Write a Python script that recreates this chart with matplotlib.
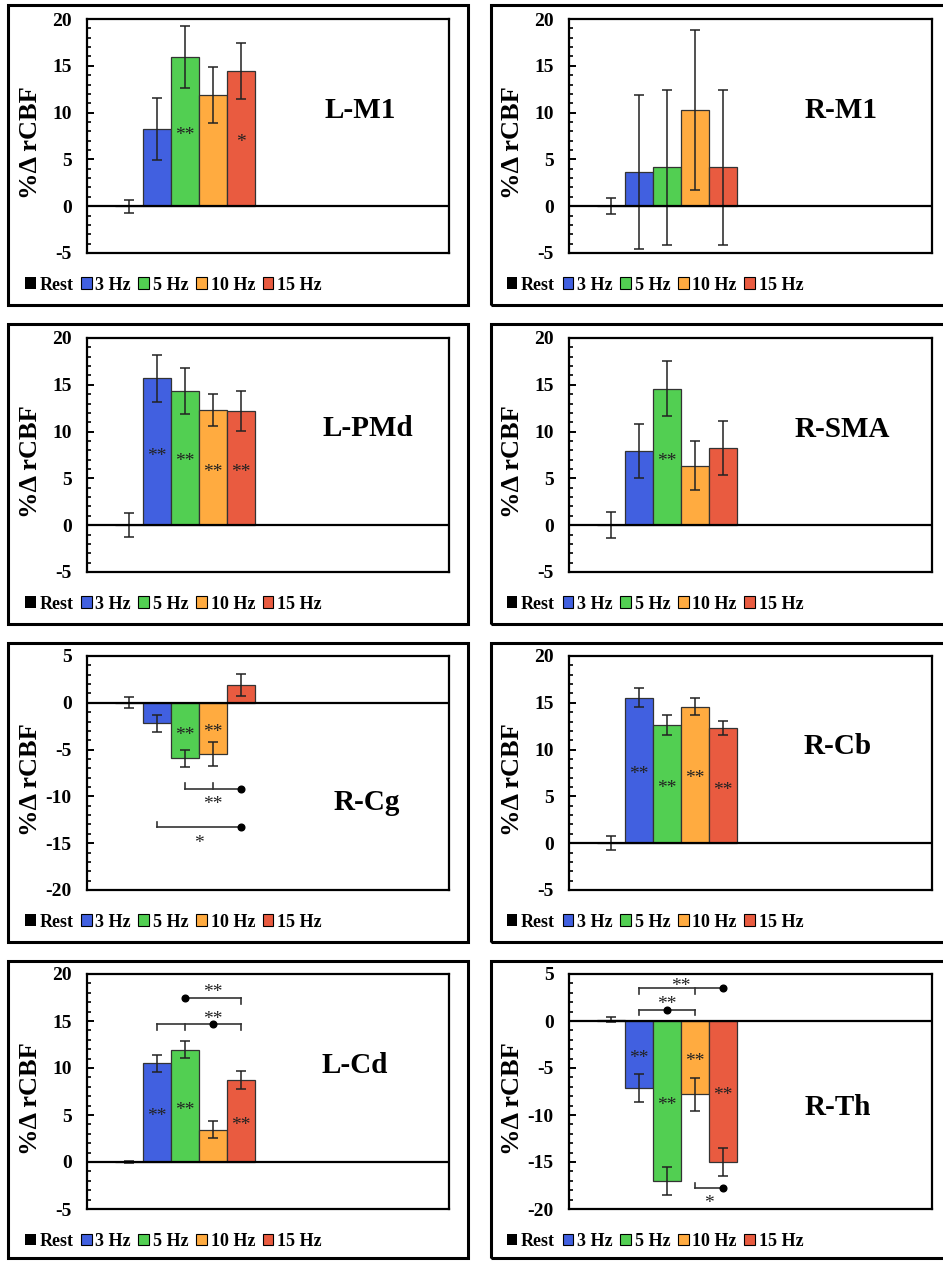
import numpy as np
import matplotlib
matplotlib.use("Agg")
import matplotlib.pyplot as plt
from matplotlib.patches import Patch, Rectangle

plt.rcParams["font.family"] = ["Liberation Serif", "DejaVu Serif"]
plt.rcParams["axes.unicode_minus"] = False

# --- dados ---
conditions = ["Rest", "3 Hz", "5 Hz", "10 Hz", "15 Hz"]
colors = ["#000000", "#4160E0", "#52CF52", "#FFAB40", "#E95B40"]

regions = ["L-M1", "R-M1", "L-PMd", "R-SMA", "R-Cg", "R-Cb", "L-Cd", "R-Th"]

lm1_mean = [0.0, 8.25, 15.95, 11.85, 14.4]
lm1_err = [0.7, 3.3, 3.35, 3.0, 3.0]
lm1_stars = ["", "", "**", "", "*"]

rm1_mean = [0.0, 3.65, 4.15, 10.3, 4.15]
rm1_err = [0.87, 8.2, 8.25, 8.55, 8.3]
rm1_stars = ["", "", "", "", ""]

lpmd_mean = [0.0, 15.7, 14.35, 12.3, 12.2]
lpmd_err = [1.27, 2.5, 2.47, 1.75, 2.15]
lpmd_stars = ["", "**", "**", "**", "**"]

rsma_mean = [0.0, 7.9, 14.6, 6.35, 8.25]
rsma_err = [1.37, 2.87, 2.9, 2.63, 2.87]
rsma_stars = ["", "", "**", "", ""]

rcg_mean = [0.0, -2.2, -5.95, -5.45, 1.9]
rcg_err = [0.6, 0.94, 0.96, 1.28, 1.15]
rcg_stars = ["", "", "**", "**", ""]

rcb_mean = [0.0, 15.55, 12.65, 14.6, 12.3]
rcb_err = [0.76, 1.03, 1.1, 0.87, 0.78]
rcb_stars = ["", "**", "**", "**", "**"]

lcd_mean = [0.0, 10.5, 11.95, 3.45, 8.7]
lcd_err = [0.12, 0.91, 0.9, 0.9, 0.94]
lcd_stars = ["", "**", "**", "", "**"]

rth_mean = [0.15, -7.1, -17.05, -7.8, -15.0]
rth_err = [0.3, 1.5, 1.48, 1.73, 1.5]
rth_stars = ["", "**", "**", "**", "**"]

# comparacoes entre frequencias: (y, de, ate, ponto, ticks, direcao, rotulo, x_rot, y_rot)
rcg_pairs = [(-9.16, 2, 4, 4, [2, 3], 1, "**", 3.0, -10.35),
             (-13.3, 1, 4, 4, [1], 1, "*", 2.5, -14.5)]
lcd_pairs = [(17.43, 2, 4, 2, [4], -1, "**", 3.0, 18.5),
             (14.69, 1, 4, 3, [1, 2, 4], -1, "**", 3.0, 15.72)]
rth_pairs = [(3.47, 1, 4, 4, [1, 3], -1, "**", 2.5, 4.22),
             (1.21, 1, 3, 2, [1, 3], -1, "**", 2.0, 2.28),
             (-17.8, 3, 4, 4, [3], 1, "*", 3.5, -18.86)]

# --- layout (pixels) ---
W, H = 943, 1261
fig = plt.figure(figsize=(W / 100, H / 100), dpi=100)

def frect(x0, y0, x1, y1):
    return [x0 / W, 1 - y1 / H, (x1 - x0) / W, (y1 - y0) / H]

col_axes = [(87, 449), (569, 932)]
col_box = [(8, 468), (491, 960)]
row_axes = [(19, 253), (338, 572), (656, 890), (974, 1209)]
row_box = [(5, 305), (324, 624), (643, 942), (961, 1258)]

# (media, erro, estrelas, pares, ylim, posicao do nome, y das estrelas)
panel_data = [
    (lm1_mean, lm1_err, lm1_stars, [], (-5, 20), (0.754, 0.61), [0, 0, 8.1, 0, 7.3]),
    (rm1_mean, rm1_err, rm1_stars, [], (-5, 20), (0.75, 0.61), [0, 0, 0, 0, 0]),
    (lpmd_mean, lpmd_err, lpmd_stars, [], (-5, 20), (0.776, 0.613), [0, 7.9, 7.3, 6.2, 6.2]),
    (rsma_mean, rsma_err, rsma_stars, [], (-5, 20), (0.752, 0.61), [0, 0, 7.37, 0, 0]),
    (rcg_mean, rcg_err, rcg_stars, rcg_pairs, (-20, 5), (0.773, 0.372), [0, 0, -2.95, -2.65, 0]),
    (rcb_mean, rcb_err, rcb_stars, [], (-5, 20), (0.741, 0.613), [0, 7.9, 6.35, 7.38, 6.2]),
    (lcd_mean, lcd_err, lcd_stars, lcd_pairs, (-5, 20), (0.74, 0.61), [0, 5.33, 6.04, 0, 4.44]),
    (rth_mean, rth_err, rth_stars, rth_pairs, (-20, 5), (0.741, 0.432), [0, -3.45, -8.44, -3.8, -7.46]),
]

x = np.arange(len(conditions))
handles = [Patch(facecolor=c, edgecolor="black" if i else "none", linewidth=0.8, label=l)
           for i, (c, l) in enumerate(zip(colors, conditions))]

STAR_FS = 14


def star(ax, xs, ys, s):
    # o asterisco fica alto na caixa da fonte: desce um pouco para centrar a tinta
    ax.annotate(s, (xs, ys), xytext=(0, -3.5), textcoords="offset points",
                ha="center", va="center", fontsize=STAR_FS, color="#222222", zorder=5)


for k, (name, (mean, err, stars, pairs, ylim, lab_xy, star_y)) in enumerate(zip(regions, panel_data)):
    r, c = divmod(k, 2)
    bx0, bx1 = col_box[c]
    by0, by1 = row_box[r]
    fig.patches.append(Rectangle((bx0 / W, 1 - by1 / H), (bx1 - bx0) / W, (by1 - by0) / H,
                                 transform=fig.transFigure, fill=False,
                                 edgecolor="black", linewidth=2.2))
    ax0, ax1 = col_axes[c]
    ay0, ay1 = row_axes[r]
    ax = fig.add_axes(frect(ax0, ay0, ax1, ay1))

    ax.bar(x, mean, width=1.0, color=colors, edgecolor="#333333", linewidth=0.9, zorder=2)
    ax.errorbar(x, mean, yerr=err, fmt="none", ecolor="#222222", elinewidth=1.1,
                capsize=3.5, capthick=1.1, zorder=3)
    ax.axhline(0, color="black", linewidth=1.6, zorder=4)

    for xi, s, sy in zip(x, stars, star_y):
        if s:
            star(ax, xi, sy, s)

    for (py, i0, i1, dot, ticks, d, lab, lx, ly) in pairs:
        ax.plot([x[i0], x[i1]], [py, py], color="#333333", linewidth=1.2, zorder=5)
        for t in ticks:
            ax.plot([x[t], x[t]], [py, py + 0.6 * d], color="#333333", linewidth=1.2, zorder=5)
        ax.plot(x[dot], py, "o", color="black", markersize=4.8, zorder=6)
        star(ax, lx, ly, lab)

    ax.set_xlim(-1.49, 11.45)
    ax.set_ylim(*ylim)
    ax.set_xticks([])
    ax.set_yticks(np.arange(ylim[0], ylim[1] + 1, 5))
    ax.set_yticks(np.arange(ylim[0], ylim[1] + 1, 1), minor=True)
    ax.tick_params(axis="y", which="major", direction="in", length=5, width=1.4,
                   labelsize=14, pad=11)
    ax.tick_params(axis="y", which="minor", direction="in", length=3, width=1.2)
    for lbl in ax.get_yticklabels():
        lbl.set_fontweight("bold")
    for sp in ax.spines.values():
        sp.set_linewidth(1.6)

    ax.set_ylabel("%\u0394 rCBF", fontsize=19, fontweight="bold")
    ax.yaxis.set_label_coords(-0.125, 0.47)

    ax.text(lab_xy[0], lab_xy[1], name, transform=ax.transAxes, ha="center", va="center",
            fontsize=21, fontweight="bold")

    ax.legend(handles=handles, loc="center left", bbox_to_anchor=(-0.172, -0.137),
              ncol=5, frameon=False, prop={"weight": "bold", "size": 13},
              handlelength=0.6, handleheight=0.6, handletextpad=0.2,
              columnspacing=0.42, borderaxespad=0, borderpad=0)

fig.savefig("out.png", dpi=100)
